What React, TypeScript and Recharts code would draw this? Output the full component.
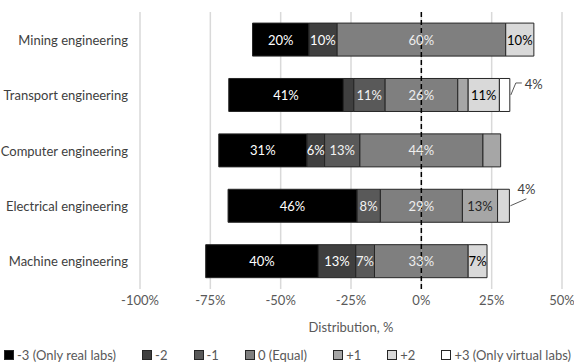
import React from 'react';
import { BarChart, Bar, XAxis, YAxis, CartesianGrid, ReferenceLine, LabelList, Legend } from 'recharts';

// ---- data (percent of respondents per answer) ----
const categories = [
  'Mining engineering',
  'Transport engineering',
  'Computer engineering',
  'Electrical engineering',
  'Machine engineering',
];
const onlyReal = [20, 40.7, 31.3, 45.8, 40.0]; // -3
const minus2 = [10, 3.7, 6.3, 0, 13.3];
const minus1 = [0, 11.1, 12.5, 8.3, 6.7];
const equal = [60, 25.9, 43.8, 29.2, 33.3]; // 0, split half/half around zero
const plus1 = [0, 3.7, 6.3, 12.5, 0];
const plus2 = [10, 11.1, 0, 4.2, 6.7];
const onlyVirtual = [0, 3.7, 0, 0, 0]; // +3
const xTicks = [-100, -75, -50, -25, 0, 25, 50];

// segments that carry no label, and those labelled outside with a leader line
const unlabeled = ['Transport engineering|m2', 'Transport engineering|p1', 'Computer engineering|p1'];
const callouts: Record<string, 'elbow' | 'straight'> = {
  'Transport engineering|p3': 'elbow',
  'Electrical engineering|p2': 'straight',
};

const FONT = 'Lato, "Noto Sans", sans-serif';
const STROKE = '#262626';
const TEXT = '#595959';

const series = [
  { key: 'm3', name: '-3 (Only real labs)', values: onlyReal, fill: '#000000', text: '#ffffff' },
  { key: 'm2', name: '-2', values: minus2, fill: '#3f3f3f', text: '#ffffff' },
  { key: 'm1', name: '-1', values: minus1, fill: '#595959', text: '#f2f2f2' },
  { key: 'n', name: '0 (Equal)', values: equal, fill: '#7f7f7f', text: '#eeeeee' },
  { key: 'p1', name: '+1', values: plus1, fill: '#a6a6a6', text: '#262626' },
  { key: 'p2', name: '+2', values: plus2, fill: '#d9d9d9', text: '#000000' },
  { key: 'p3', name: '+3 (Only virtual labs)', values: onlyVirtual, fill: '#ffffff', text: '#000000' },
];
const byKey = Object.fromEntries(series.map((s) => [s.key, s]));

const rows = categories.map((name, i) => ({
  name,
  m3: -onlyReal[i],
  m2: -minus2[i],
  m1: -minus1[i],
  nNeg: -equal[i] / 2,
  nPos: equal[i] / 2,
  p1: plus1[i],
  p2: plus2[i],
  p3: onlyVirtual[i],
}));

// neutral halves: outline everything except the edge at zero
const halfShape = (side: 'left' | 'right') => (props: any) => {
  const { x, y, width, height, fill } = props;
  const x0 = Math.min(x, x + width);
  const x1 = Math.max(x, x + width);
  if (x1 - x0 <= 0) return null;
  const d =
    side === 'left'
      ? `M${x1},${y} L${x0},${y} L${x0},${y + height} L${x1},${y + height}`
      : `M${x0},${y} L${x1},${y} L${x1},${y + height} L${x0},${y + height}`;
  return (
    <g>
      <rect x={x0} y={y} width={x1 - x0} height={height} fill={fill} />
      <path d={d} fill="none" stroke={STROKE} strokeWidth={1} />
    </g>
  );
};

// LabelList is fed the category name, so the row is found from it
const makeLabel = (key: string, centerOnZero = false) => (props: any) => {
  const vb = props.viewBox ?? props;
  const { x, y, width, height } = vb;
  const index = categories.indexOf(props.value);
  if (index < 0) return null;
  const s = byKey[key];
  const v = s.values[index];
  const id = `${categories[index]}|${key}`;
  if (!v || unlabeled.includes(id)) return null;
  const text = `${Math.round(v)}%`;
  const x0 = Math.min(x, x + width);
  const x1 = Math.max(x, x + width);
  const mid = y + height / 2;
  const kind = callouts[id];
  if (kind === 'elbow') {
    return (
      <g>
        <polyline
          points={`${x1 + 1},${mid} ${x1 + 6},${mid - 12} ${x1 + 12},${mid - 12}`}
          fill="none"
          stroke={TEXT}
          strokeWidth={1}
        />
        <text x={x1 + 15} y={mid - 11} fill="#404040" fontSize={13} fontFamily={FONT} dominantBaseline="central">
          {text}
        </text>
      </g>
    );
  }
  if (kind === 'straight') {
    return (
      <g>
        <line x1={x1 + 1} y1={mid} x2={x1 + 17} y2={mid - 7} stroke={TEXT} strokeWidth={1} />
        <text x={x1 + 17} y={mid - 17} fill="#404040" fontSize={13} fontFamily={FONT} textAnchor="middle" dominantBaseline="central">
          {text}
        </text>
      </g>
    );
  }
  const cx = centerOnZero ? x : (x0 + x1) / 2;
  return (
    <text x={cx} y={mid} fill={s.text} fontSize={13} fontFamily={FONT} textAnchor="middle" dominantBaseline="central">
      {text}
    </text>
  );
};

const CategoryTick = (props: any) => {
  const { x, y, payload } = props;
  return (
    <text x={x} y={y} fill="#404040" fontSize={13} fontFamily={FONT} textAnchor="end" dominantBaseline="central">
      {payload.value}
    </text>
  );
};

const renderLegend = () => (
  <div
    style={{
      display: 'flex',
      justifyContent: 'space-between',
      boxSizing: 'border-box',
      width: 574,
      padding: '0 3px 0 4px',
      fontFamily: FONT,
      fontSize: 13,
      color: TEXT,
      lineHeight: '22px',
      whiteSpace: 'nowrap',
      position: 'relative',
      top: 4,
    }}
  >
    {series.map((s) => (
      <span key={s.key} style={{ display: 'flex', alignItems: 'center' }}>
        <span
          style={{
            width: 8,
            height: 8,
            background: s.fill,
            border: `1px solid ${STROKE}`,
            marginRight: 3,
            display: 'inline-block',
          }}
        />
        <span>{s.name}</span>
      </span>
    ))}
  </div>
);

export default function App() {
  return (
    <div style={{ position: 'absolute', left: 0, top: 0, width: 574, height: 364, background: '#fff' }}>
      <BarChart
        width={574}
        height={364}
        data={rows}
        layout="vertical"
        stackOffset="sign"
        barCategoryGap="20%"
        margin={{ top: 12, right: 12, left: 0, bottom: 2 }}
      >
        <CartesianGrid horizontal={false} stroke="#d9d9d9" strokeWidth={1.5} />
        <XAxis
          type="number"
          domain={[-100, 50]}
          ticks={xTicks}
          tickFormatter={(v) => `${v}%`}
          axisLine={false}
          tickLine={false}
          tickMargin={1}
          height={51}
          tick={{ fill: TEXT, fontSize: 13, fontFamily: FONT }}
          label={{ value: 'Distribution, %', position: 'insideBottom', offset: 8, fill: TEXT, fontSize: 13, fontFamily: FONT }}
        />
        <YAxis
          type="category"
          dataKey="name"
          width={140}
          axisLine={false}
          tickLine={false}
          tickMargin={6}
          tick={<CategoryTick />}
        />
        <Legend verticalAlign="bottom" height={22} content={renderLegend} wrapperStyle={{ left: 0, width: 574 }} />
        <Bar dataKey="nNeg" stackId="a" fill={byKey.n.fill} shape={halfShape('left')} isAnimationActive={false} />
        <Bar dataKey="nPos" stackId="a" fill={byKey.n.fill} shape={halfShape('right')} isAnimationActive={false}>
          <LabelList dataKey="name" content={makeLabel('n', true)} />
        </Bar>
        {['m1', 'p1', 'm2', 'p2', 'm3', 'p3'].map((k) => (
          <Bar
            key={k}
            dataKey={k}
            stackId="a"
            fill={byKey[k].fill}
            stroke={STROKE}
            strokeWidth={1}
            isAnimationActive={false}
          >
            <LabelList dataKey="name" content={makeLabel(k)} />
          </Bar>
        ))}
        <ReferenceLine x={0} stroke="#000" strokeWidth={1.5} strokeDasharray="5 3" />
      </BarChart>
    </div>
  );
}
